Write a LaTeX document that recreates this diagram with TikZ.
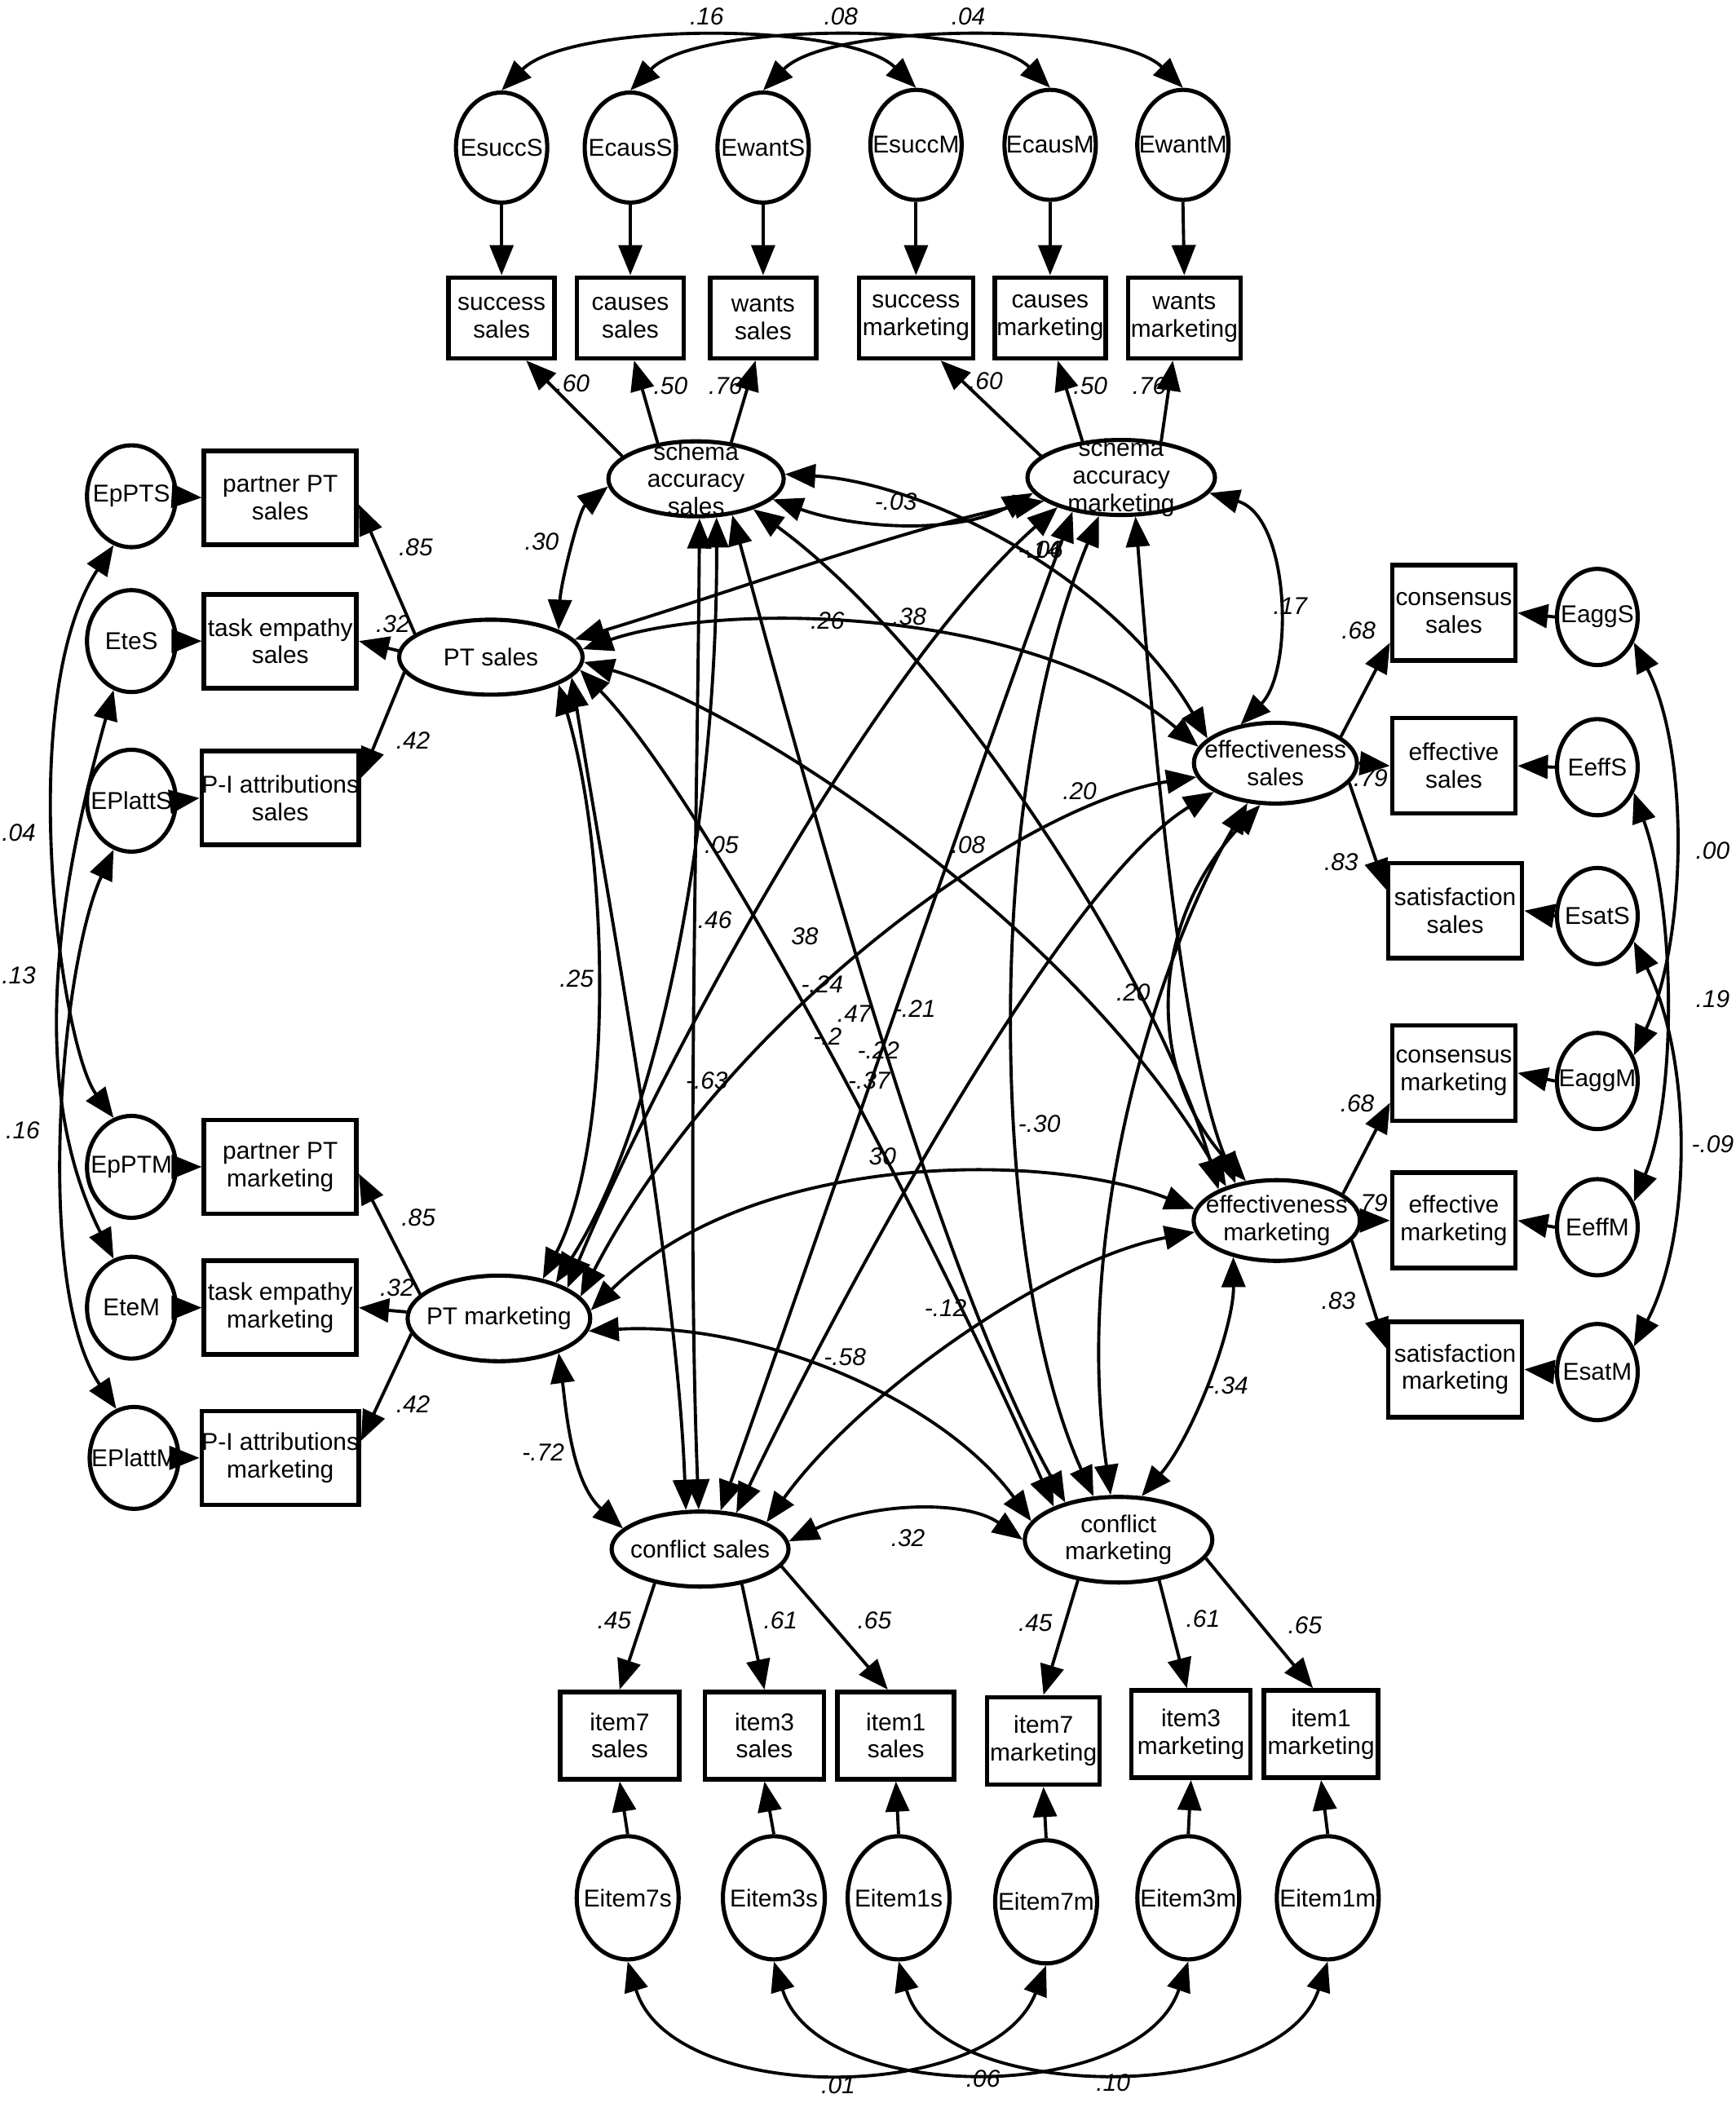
\documentclass[tikz,border=0pt]{standalone}
\usepackage{fontspec}
\setmainfont{Liberation Sans}
\usetikzlibrary{arrows.meta,shapes.geometric}
\newcommand\dfont{\fontsize{8.5}{9.6}\selectfont}
\begin{document}
\begin{tikzpicture}[x=0.016445cm,y=-0.016445cm,
  >={Triangle[length=0.37cm,width=0.29cm]},
  arr/.style={line width=1.1pt,->},
  corr/.style={line width=1.1pt,<->},
  box/.style={draw,line width=1.6pt,inner sep=0pt,align=center,font=\dfont},
  lat/.style={draw,ellipse,line width=1.45pt,inner sep=0pt},
  ltxt/.style={align=center,font=\dfont,inner sep=0pt},
  txt/.style={label={[ltxt]center:#1}},
  lab/.style={font=\dfont\itshape,inner sep=0pt},
  etop/.style={lat,minimum width=1.12cm,minimum height=1.35cm},
  eleft/.style={lat,minimum width=1.09cm,minimum height=1.25cm},
  eright/.style={lat,minimum width=0.99cm,minimum height=1.18cm},
  ebot/.style={lat,minimum width=1.25cm,minimum height=1.51cm},
  bl/.style={box,minimum width=1.87cm,minimum height=1.15cm},
  br/.style={box,minimum width=1.51cm,minimum height=1.17cm},
  bb/.style={box,minimum height=1.07cm},
  bt/.style={box,minimum height=0.99cm},
]
\useasboundingbox (0,0) rectangle (1294,1568);

% ---------- top error terms and indicators
\node[etop,txt=EsuccS] (EsuccS) at (374,110) {};
\node[etop,txt=EcausS] (EcausS) at (470,110) {};
\node[etop,txt=EwantS] (EwantS) at (569,110) {};
\node[etop,txt=EsuccM] (EsuccM) at (683,108) {};
\node[etop,txt=EcausM] (EcausM) at (783,108) {};
\node[etop,txt=EwantM] (EwantM) at (882,108) {};
\node[bt,minimum width=1.30cm] (ssS) at (374,237) {success\\sales};
\node[bt,minimum width=1.31cm] (csS) at (470,237) {causes\\sales};
\node[bt,minimum width=1.30cm] (wsS) at (569,237) {wants\\sales};
\node[bt,minimum width=1.40cm] (smS) at (683,237) {success\\marketing};
\node[bt,minimum width=1.36cm] (cmS) at (783,237) {causes\\marketing};
\node[bt,minimum width=1.38cm] (wmS) at (883,237) {wants\\marketing};

% ---------- latent variables
\node[lat,minimum width=2.15cm,minimum height=0.92cm,txt={schema\\accuracy\\sales}] (SAS) at (519,357) {};
\node[lat,minimum width=2.30cm,minimum height=0.92cm,txt={schema\\accuracy\\marketing}] (SAM) at (836,356) {};
\node[lat,minimum width=2.25cm,minimum height=0.92cm,txt={PT sales}] (PTS) at (366,490) {};
\node[lat,minimum width=2.24cm,minimum height=1.05cm,txt={PT marketing}] (PTM) at (372,983) {};
\node[lat,minimum width=2.00cm,minimum height=0.99cm,txt={effectiveness\\sales}] (ES) at (951,569) {};
\node[lat,minimum width=2.04cm,minimum height=0.99cm,txt={effectiveness\\marketing}] (EM) at (952,910) {};
\node[lat,minimum width=2.17cm,minimum height=0.92cm,txt={conflict sales}] (CS) at (522,1155) {};
\node[lat,minimum width=2.30cm,minimum height=1.05cm,txt={conflict\\marketing}] (CM) at (834,1148) {};

% ---------- left indicators
\node[bl] (pPS) at (209,371) {partner PT\\sales};
\node[bl] (tES) at (209,478) {task empathy\\sales};
\node[bl] (PIS) at (209,595) {P-I attributions\\sales};
\node[bl] (pPM) at (209,870) {partner PT\\marketing};
\node[bl] (tEM) at (209,975) {task empathy\\marketing};
\node[bl] (PIM) at (209,1087) {P-I attributions\\marketing};
\node[eleft,txt=EpPTS] (EpPTS) at (98,370) {};
\node[eleft,txt=EteS] (EteS) at (98,478) {};
\node[eleft,txt=EPlattS] (EPlattS) at (98,597) {};
\node[eleft,txt=EpPTM] (EpPTM) at (98,870) {};
\node[eleft,txt=EteM] (EteM) at (98,975) {};
\node[eleft,txt=EPlattM] (EPlattM) at (100,1087) {};

% ---------- right indicators
\node[br] (cSS) at (1084,457) {consensus\\sales};
\node[br] (eSS) at (1084,571) {effective\\sales};
\node[br,minimum width=1.64cm] (sSS) at (1085,679) {satisfaction\\sales};
\node[br] (cSM) at (1084,800) {consensus\\marketing};
\node[br] (eSM) at (1084,910) {effective\\marketing};
\node[br,minimum width=1.64cm] (sSM) at (1085,1021) {satisfaction\\marketing};
\node[eright,txt=EaggS] (EaggS) at (1191,460) {};
\node[eright,txt=EeffS] (EeffS) at (1191,572) {};
\node[eright,txt=EsatS] (EsatS) at (1191,683) {};
\node[eright,txt=EaggM] (EaggM) at (1191,806) {};
\node[eright,txt=EeffM] (EeffM) at (1191,915) {};
\node[eright,txt=EsatM] (EsatM) at (1191,1023) {};

% ---------- bottom indicators
\node[bb,minimum width=1.46cm] (i7S) at (462,1294) {item7\\sales};
\node[bb,minimum width=1.46cm] (i3S) at (570,1294) {item3\\sales};
\node[bb,minimum width=1.43cm] (i1S) at (668,1294) {item1\\sales};
\node[bb,minimum width=1.38cm] (i7M) at (778,1298) {item7\\marketing};
\node[bb,minimum width=1.46cm] (i3M) at (888,1293) {item3\\marketing};
\node[bb,minimum width=1.40cm] (i1M) at (985,1293) {item1\\marketing};
\node[ebot,txt=Eitem7s] (Eitem7s) at (468,1415) {};
\node[ebot,txt=Eitem3s] (Eitem3s) at (577,1415) {};
\node[ebot,txt=Eitem1s] (Eitem1s) at (670,1415) {};
\node[ebot,txt=Eitem7m] (Eitem7m) at (780,1418) {};
\node[ebot,txt=Eitem3m] (Eitem3m) at (886,1415) {};
\node[ebot,txt=Eitem1m] (Eitem1m) at (990,1415) {};

% ---------- error -> indicator arrows
\foreach \e/\b in {EsuccS/ssS,EcausS/csS,EwantS/wsS,EsuccM/smS,EcausM/cmS,EwantM/wmS}
  \draw[arr] (\e.south) -- (\b.north);
\foreach \e/\b in {EpPTS/pPS,EteS/tES,EPlattS/PIS,EpPTM/pPM,EteM/tEM,EPlattM/PIM}
  \draw[arr] (\e.east) -- (\b.west);
\foreach \e/\b in {EaggS/cSS,EeffS/eSS,EsatS/sSS,EaggM/cSM,EeffM/eSM,EsatM/sSM}
  \draw[arr] (\e.west) -- (\b.east);
\foreach \e/\b in {Eitem7s/i7S,Eitem3s/i3S,Eitem1s/i1S,Eitem7m/i7M,Eitem3m/i3M,Eitem1m/i1M}
  \draw[arr] (\e.north) -- (\b.south);

% ---------- loadings
\draw[arr] (SAS.163) -- (ssS.-60);
\draw[arr] (SAS.137) -- (csS.-85);
\draw[arr] (SAS.46) -- (wsS.-100);
\draw[arr] (SAM.165) -- (smS.-60);
\draw[arr] (SAM.137) -- (cmS.-80);
\draw[arr] (SAM.42) -- (wmS.-105);
\draw[arr] (PTS.163) -- (pPS.-5);
\draw[arr] (PTS.176) -- (tES.east);
\draw[arr] (PTS.190) -- (PIS.14);
\draw[arr] (PTM.163) -- (pPM.-5);
\draw[arr] (PTM.176) -- (tEM.east);
\draw[arr] (PTM.190) -- (PIM.12);
\draw[arr] (ES.22) -- (cSS.205);
\draw[arr] (ES.east) -- (eSS.west);
\draw[arr] (ES.-15) -- (sSS.163);
\draw[arr] (EM.22) -- (cSM.205);
\draw[arr] (EM.east) -- (eSM.west);
\draw[arr] (EM.-15) -- (sSM.163);
\draw[arr] (CS.-143) -- (i7S.north);
\draw[arr] (CS.-40) -- (i3S.north);
\draw[arr] (CS.-12) -- (i1S.100);
\draw[arr] (CM.-135) -- (i7M.north);
\draw[arr] (CM.-45) -- (i3M.95);
\draw[arr] (CM.-12) -- (i1M.100);

% ---------- error covariances
\draw[corr] (EsuccS.north) .. controls (425,16) and (632,16) .. (EsuccM.north);
\draw[corr] (EcausS.north) .. controls (520,16) and (733,16) .. (EcausM.north);
\draw[corr] (EwantS.north) .. controls (619,16) and (832,16) .. (EwantM.north);
\draw[corr] (EpPTS.-110) .. controls (10,520) and (45,780) .. (EpPTM.110);
\draw[corr] (EteS.-110) .. controls (50,640) and (15,800) .. (EteM.110);
\draw[corr] (EPlattS.-110) .. controls (45,720) and (25,960) .. (EPlattM.110);
\draw[corr] (EaggS.-35) .. controls (1260,560) and (1258,700) .. (EaggM.35);
\draw[corr] (EeffS.-35) .. controls (1250,680) and (1250,820) .. (EeffM.35);
\draw[corr] (EsatS.-35) .. controls (1262,790) and (1262,920) .. (EsatM.35);
\draw[corr] (Eitem7s.south) .. controls (500,1570) and (740,1570) .. (Eitem7m.south);
\draw[corr] (Eitem3s.south) .. controls (610,1570) and (850,1570) .. (Eitem3m.south);
\draw[corr] (Eitem1s.south) .. controls (700,1570) and (955,1570) .. (Eitem1m.south);

% ---------- latent correlations
\draw[corr] (SAS.185) .. controls (432,380) and (418,435) .. (PTS.22);
\draw[corr] (SAS.-15) .. controls (640,395) and (715,398) .. (SAM.190);
\draw[corr] (SAS.3) .. controls (690,360) and (830,430) .. (ES.160);
\draw[corr] (SAS.-28) .. controls (700,480) and (860,720) .. (EM.152);
\draw[corr] (SAS.-85) .. controls (520,600) and (512,900) .. (CS.92);
\draw[corr] (SAS.-62) .. controls (535,600) and (495,830) .. (PTM.32);
\draw[corr] (SAS.-45) .. controls (610,620) and (700,950) .. (CM.145);
\draw[corr] (PTS.12) .. controls (550,440) and (680,392) .. (SAM.197);
\draw[corr] (PTS.5) .. controls (540,448) and (770,452) .. (ES.168);
\draw[corr] (PTS.-3) .. controls (560,530) and (800,690) .. (EM.146);
\draw[corr] (PTS.-22) .. controls (455,640) and (458,850) .. (PTM.42);
\draw[corr] (PTS.-14) .. controls (455,680) and (505,950) .. (CS.110);
\draw[corr] (PTS.-8) .. controls (530,600) and (700,930) .. (CM.153);
\draw[corr] (SAM.-10) .. controls (962,385) and (965,500) .. (ES.132);
\draw[corr] (SAM.205) .. controls (650,500) and (490,800) .. (PTM.24);
\draw[corr] (SAM.215) .. controls (720,600) and (600,950) .. (CS.62);
\draw[corr] (SAM.240) .. controls (730,600) and (740,950) .. (CM.120);
\draw[corr] (SAM.-70) .. controls (860,550) and (880,780) .. (EM.138);
\draw[corr] (ES.190) .. controls (760,600) and (540,760) .. (PTM.15);
\draw[corr] (ES.205) .. controls (790,660) and (620,980) .. (CS.45);
\draw[corr] (ES.235) .. controls (860,720) and (800,920) .. (CM.100);
\draw[corr] (ES.250) .. controls (855,690) and (855,800) .. (EM.128);
\draw[corr] (EM.172) .. controls (780,858) and (560,858) .. (PTM.5);
\draw[corr] (EM.188) .. controls (780,940) and (640,1040) .. (CS.22);
\draw[corr] (EM.-140) .. controls (920,990) and (890,1070) .. (CM.62);
\draw[corr] (PTM.-30) .. controls (422,1050) and (426,1105) .. (CS.165);
\draw[corr] (PTM.-8) .. controls (560,985) and (700,1040) .. (CM.168);
\draw[corr] (CS.5) .. controls (650,1120) and (720,1118) .. (CM.180);

% ---------- labels
\node[lab] (l01) at (527,12) {.16};
\node[lab] (l02) at (627,12) {.08};
\node[lab] (l03) at (722,12) {.04};
\node[lab] (l04) at (427,286) {.60};
\node[lab] (l05) at (500,288) {.50};
\node[lab] (l06) at (541,288) {.76};
\node[lab] (l07) at (735,284) {.60};
\node[lab] (l08) at (813,288) {.50};
\node[lab] (l09) at (857,288) {.76};
\node[lab] (l10) at (310,408) {.85};
\node[lab] (l11) at (293,465) {.32};
\node[lab] (l12) at (308,552) {.42};
\node[lab] (l13) at (312,908) {.85};
\node[lab] (l14) at (296,960) {.32};
\node[lab] (l15) at (308,1047) {.42};
\node[lab] (l16) at (14,621) {.04};
\node[lab] (l17) at (14,727) {.13};
\node[lab] (l18) at (17,843) {.16};
\node[lab] (l19) at (1013,470) {.68};
\node[lab] (l20) at (1022,580) {.79};
\node[lab] (l21) at (1000,643) {.83};
\node[lab] (l22) at (1012,823) {.68};
\node[lab] (l23) at (1022,897) {.79};
\node[lab] (l24) at (998,970) {.83};
\node[lab] (l25) at (1277,634) {.00};
\node[lab] (l26) at (1277,745) {.19};
\node[lab] (l27) at (1277,853) {-.09};
\node[lab] (l28) at (458,1208) {.45};
\node[lab] (l29) at (582,1208) {.61};
\node[lab] (l30) at (652,1208) {.65};
\node[lab] (l31) at (772,1210) {.45};
\node[lab] (l32) at (897,1207) {.61};
\node[lab] (l33) at (973,1212) {.65};
\node[lab] (l34) at (625,1555) {.01};
\node[lab] (l35) at (733,1550) {.06};
\node[lab] (l36) at (830,1553) {.10};
\node[lab] (c01) at (404,404) {.30};
\node[lab] (c02) at (668,374) {-.03};
\node[lab] (c03) at (962,452) {.17};
\node[lab] (c04) at (617,463) {.26};
\node[lab] (c05) at (678,460) {.38};
\node[lab] (c06) at (775,410) {-.14};
\node[lab] (c07) at (777,410) {-.06};
\node[lab] (c08) at (538,630) {.05};
\node[lab] (c09) at (533,686) {.46};
\node[lab] (c10) at (722,630) {.08};
\node[lab] (c11) at (805,590) {.20};
\node[lab] (c12) at (600,698) {38};
\node[lab] (c13) at (613,734) {-.24};
\node[lab] (c14) at (637,756) {.47};
\node[lab] (c15) at (682,752) {-.21};
\node[lab] (c16) at (617,773) {-.2};
\node[lab] (c17) at (655,783) {-.22};
\node[lab] (c18) at (648,806) {-.37};
\node[lab] (c19) at (430,730) {.25};
\node[lab] (c20) at (527,806) {-.63};
\node[lab] (c21) at (845,740) {.20};
\node[lab] (c22) at (775,838) {-.30};
\node[lab] (c23) at (658,862) {30};
\node[lab] (c24) at (705,975) {-.12};
\node[lab] (c25) at (630,1012) {-.58};
\node[lab] (c26) at (915,1033) {-.34};
\node[lab] (c27) at (405,1083) {-.72};
\node[lab] (c28) at (677,1147) {.32};
\end{tikzpicture}
\end{document}
